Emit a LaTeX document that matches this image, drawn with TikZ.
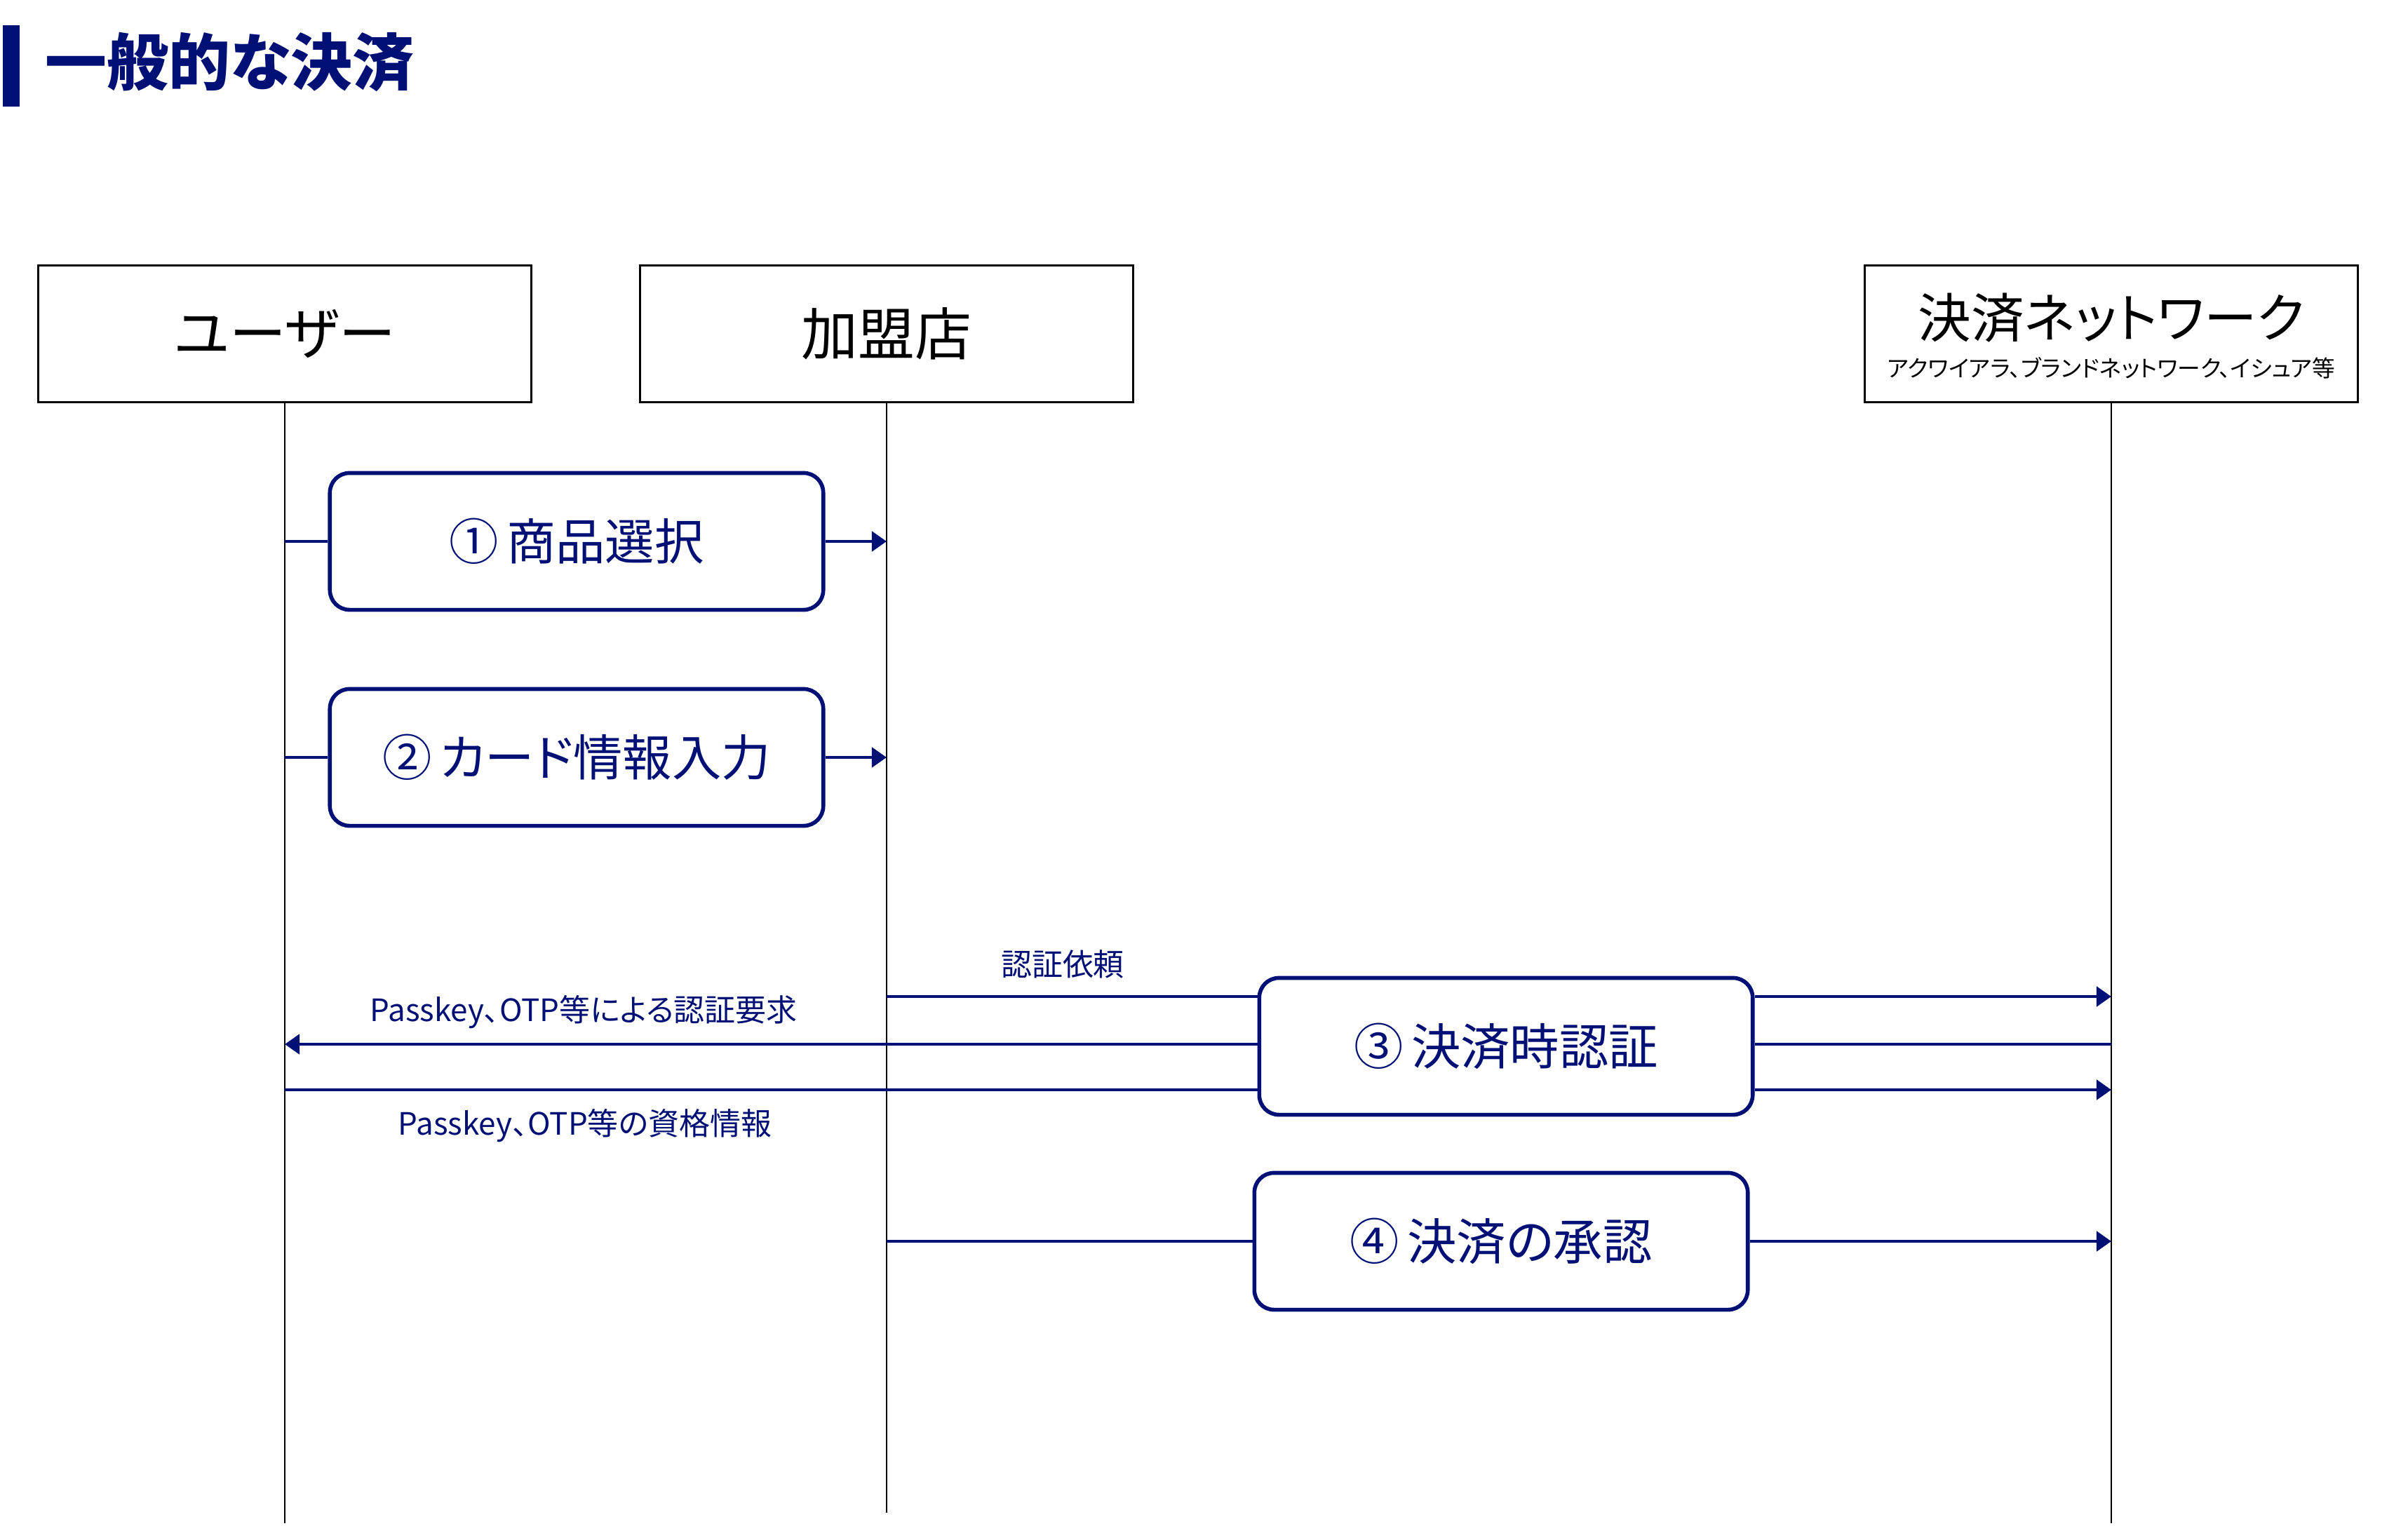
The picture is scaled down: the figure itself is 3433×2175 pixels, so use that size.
\documentclass[tikz,border=0pt]{standalone}
\usepackage{fontspec}
\setmainfont[RawFeature=+palt]{Noto Sans CJK JP}
\usetikzlibrary{arrows.meta}
\definecolor{navy}{RGB}{0,16,117}
\tikzset{>={Triangle[length=6pt,width=8pt]}}

\begin{document}
\begin{tikzpicture}[x=0.01cm,y=-0.01cm,
  head/.style={draw,line width=0.8pt,minimum width=7.03cm,minimum height=1.95cm,font=\fontsize{23}{28}\selectfont},
  stepbox/.style={draw=navy,text=navy,line width=1.6pt,rounded corners=0.28cm,minimum width=7.03cm,minimum height=1.95cm,font=\fontsize{20}{24}\selectfont},
  msg/.style={navy,line width=1.4pt},
  life/.style={line width=0.8pt},
  lbl/.style={text=navy,font=\fontsize{12.5}{15}\selectfont}]
\useasboundingbox (0,0) rectangle (3433,2175);
\fill[navy] (4,36) rectangle (28,152);
\node[anchor=west,text=navy,font=\fontsize{25}{30}\selectfont\bfseries] (title) at (52,88) {一般的な決済};
\node[head] (user) at (406,476) {ユーザー};
\node[head] (shop) at (1264,476) {加盟店};
\node[head] (net) at (3010,476) {};
\node (nettitle) at (3010,453) {\fontsize{21.5}{26}\selectfont 決済ネットワーク};
\node (netsub) at (3010,525) {\fontsize{9.3}{11}\selectfont アクワイアラ、ブランドネットワーク、イシュア等};
\coordinate (bottom) at (0,2172);
\coordinate (shopend) at (0,2157);
\draw[life] (user.south) -- (user.south |- bottom);
\draw[life] (shop.south) -- (shop.south |- shopend);
\draw[life] (net.south) -- (net.south |- bottom);
\node[stepbox] (s1) at (822,772) {①\,商品選択};
\node[stepbox] (s2) at (822,1080) {②\,カード情報入力};
\node[stepbox] (s3) at (2147,1492) {③\,決済時認証};
\node[stepbox] (s4) at (2140,1770) {④\,決済の承認};
\draw[msg] (user.south |- s1) -- (s1.west);
\draw[msg,->] (s1.east) -- (shop.south |- s1);
\draw[msg] (user.south |- s2) -- (s2.west);
\draw[msg,->] (s2.east) -- (shop.south |- s2);
\coordinate (req) at (0,1421);
\coordinate (ask) at (0,1489);
\coordinate (cred) at (0,1554);
\draw[msg] (shop.south |- req) -- (s3.west |- req);
\draw[msg,->] (s3.east |- req) -- (net.south |- req);
\draw[msg] (net.south |- ask) -- (s3.east |- ask);
\draw[msg,->] (s3.west |- ask) -- (user.south |- ask);
\draw[msg] (user.south |- cred) -- (s3.west |- cred);
\draw[msg,->] (s3.east |- cred) -- (net.south |- cred);
\draw[msg] (shop.south |- s4) -- (s4.west);
\draw[msg,->] (s4.east) -- (net.south |- s4);
\node[lbl] (reqlbl) at (1515,1375) {認証依頼};
\node[lbl] (asklbl) at (832,1443) {Passkey、OTP等による認証要求};
\node[lbl] (credlbl) at (834,1605) {Passkey、OTP等の資格情報};
\end{tikzpicture}
\end{document}
